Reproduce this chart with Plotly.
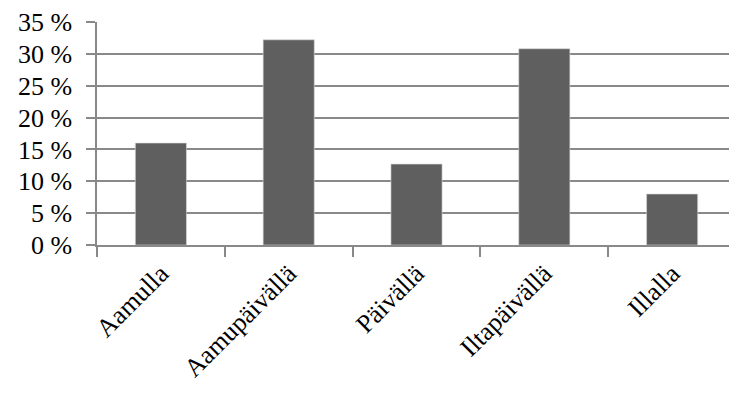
import plotly.graph_objects as go

# Share of responses by time of day
categories = ["Aamulla", "Aamupäivällä", "Päivällä", "Iltapäivällä", "Illalla"]
shares = [16.0, 32.2, 12.7, 30.8, 8.0]
y_ticks = [0, 5, 10, 15, 20, 25, 30, 35]
y_tick_labels = ["0 %", "5 %", "10 %", "15 %", "20 %", "25 %", "30 %", "35 %"]

font_family = "Liberation Serif, Times New Roman, serif"
axis_grey = "#898989"

fig = go.Figure(
    go.Bar(
        x=categories,
        y=shares,
        width=0.4,
        marker=dict(color="#5f5f5f", line=dict(color="#d9d9d9", width=0.6)),
    )
)

fig.update_layout(
    width=729,
    height=396,
    margin=dict(l=97, r=0, t=22, b=151),
    paper_bgcolor="white",
    plot_bgcolor="white",
    showlegend=False,
    font=dict(family=font_family, size=26, color="black"),
)

fig.update_xaxes(
    type="category",
    range=[-0.5, 4.445],
    tickson="boundaries",
    ticks="outside",
    ticklen=10,
    tickwidth=1.5,
    tickcolor=axis_grey,
    tickangle=-45,
    ticklabelstandoff=1,
    showgrid=False,
    showline=True,
    linecolor=axis_grey,
    linewidth=2,
    tickfont=dict(family=font_family, size=26),
)

fig.update_yaxes(
    range=[0, 35],
    tickvals=y_ticks,
    ticktext=y_tick_labels,
    ticks="outside",
    ticklen=9,
    tickwidth=2,
    tickcolor=axis_grey,
    ticklabelstandoff=9,
    showgrid=True,
    gridcolor=axis_grey,
    gridwidth=2,
    zeroline=False,
    showline=True,
    linecolor=axis_grey,
    linewidth=1.5,
    tickfont=dict(family=font_family, size=26),
)

fig.write_html("out.html")
